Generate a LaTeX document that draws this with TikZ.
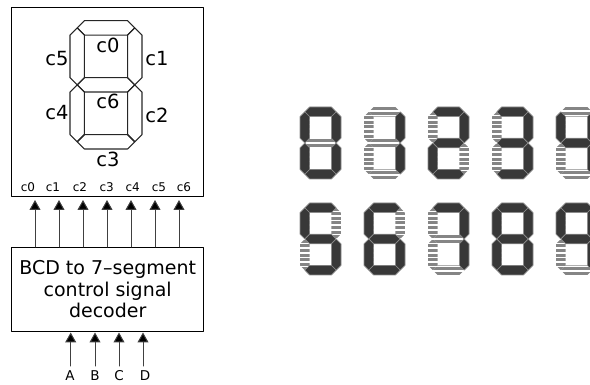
\documentclass[tikz,border=0pt]{standalone}
\usepackage{fontspec}
\setmainfont{DejaVu Sans}
\usetikzlibrary{arrows.meta}
\newcommand{\segTop}{(\segc,\segc) -- (\segt,0) -- (\segw-\segt,0) -- (\segw-\segc,\segc) -- (\segw-\segt,\segt) -- (\segt,\segt) -- cycle}
\newcommand{\segUR}{(\segw,\segt) -- (\segw-\segc,\segc) -- (\segw-\segt,\segt) -- (\segw-\segt,\segm-\segc) -- (\segw-\segc,\segm) -- (\segw,\segm-\segc) -- cycle}
\newcommand{\segLR}{(\segw,\segm+\segc) -- (\segw-\segc,\segm) -- (\segw-\segt,\segm+\segc) -- (\segw-\segt,\segh-\segt) -- (\segw-\segc,\segh-\segc) -- (\segw,\segh-\segt) -- cycle}
\newcommand{\segBot}{(\segc,\segh-\segc) -- (\segt,\segh-\segt) -- (\segw-\segt,\segh-\segt) -- (\segw-\segc,\segh-\segc) -- (\segw-\segt,\segh) -- (\segt,\segh) -- cycle}
\newcommand{\segLL}{(0,\segm+\segc) -- (\segc,\segm) -- (\segt,\segm+\segc) -- (\segt,\segh-\segt) -- (\segc,\segh-\segc) -- (0,\segh-\segt) -- cycle}
\newcommand{\segUL}{(0,\segt) -- (\segc,\segc) -- (\segt,\segt) -- (\segt,\segm-\segc) -- (\segc,\segm) -- (0,\segm-\segc) -- cycle}
\newcommand{\segMid}{(\segc,\segm) -- (\segt,\segm-\segc) -- (\segw-\segt,\segm-\segc) -- (\segw-\segc,\segm) -- (\segw-\segt,\segm+\segc) -- (\segt,\segm+\segc) -- cycle}
\tikzset{
	box/.style={draw=black, line width=0.9pt, minimum width=192pt, inner sep=0pt},
	sig/.style={-{Triangle[width=11pt,length=10pt,fill=black]}, line width=1pt, black!75},
	seglabel/.style={font=\fontsize{19.5}{22}\selectfont, inner sep=0pt},
	pinlabel/.style={font=\fontsize{12}{14}\selectfont, inner sep=0pt},
	inlabel/.style={font=\fontsize{13.5}{15}\selectfont, inner sep=0pt},
	segoutline/.style={draw=black!85, line width=1.1pt, line join=round},
	segon/.style={fill=black!78, draw=black!45, line width=0.7pt, line join=round},
	stripe/.style={draw=black!48, line width=3.1pt, line cap=butt},
}
\begin{document}
\begin{tikzpicture}[x=1pt, y=-1pt, line cap=round, line join=round]
	\clip (0,0) rectangle (590,385);
	\node[box, minimum height=188.5pt] (display) at (107.7,102) {};
	\node[box, minimum height=84.5pt, align=center, font=\fontsize{19}{21.5}\selectfont] (decoder) at (107.7,289.5) {BCD to 7--segment\\control signal\\decoder};
	\begin{scope}[shift={(70,20.7)}]
		\pgfmathsetmacro{\segw}{72}
		\pgfmathsetmacro{\segh}{128.3}
		\pgfmathsetmacro{\segt}{14.4}
		\pgfmathsetmacro{\segc}{\segt/2}
		\pgfmathsetmacro{\segm}{\segh/2}
		\foreach \s in {\segTop,\segUR,\segLR,\segBot,\segLL,\segUL,\segMid} {
			\draw[segoutline] \s;
		}
	\end{scope}
	\node[seglabel] (lblc0) at (108,45) {c0};
	\node[seglabel] (lblc1) at (157,59) {c1};
	\node[seglabel] (lblc2) at (157,115) {c2};
	\node[seglabel] (lblc3) at (108,159) {c3};
	\node[seglabel] (lblc4) at (57,113) {c4};
	\node[seglabel] (lblc5) at (57,59) {c5};
	\node[seglabel] (lblc6) at (108,101) {c6};
	\foreach \i/\xl/\x in {0/28/35,1/53/59,2/80/83,3/106.7/107,4/132.7/131,5/159/155,6/184/179} {
		\node[pinlabel] (pinc\i) at (\xl,187) {c\i};
		\coordinate (tipc\i) at (\x,200);
		\coordinate (tailc\i) at (\x,247);
		\draw[sig] (tailc\i) -- (tipc\i);
	}
	\foreach \p/\xl/\x in {A/70/70.7,B/95/95,C/119/119,D/145/143} {
		\node[inlabel] (pin\p) at (\xl,376) {\p};
		\coordinate (tip\p) at (\x,332.5);
		\coordinate (tail\p) at (\x,366);
		\draw[sig] (tail\p) -- (tip\p);
	}
	\pgfmathsetmacro{\segw}{41}
	\pgfmathsetmacro{\segh}{72}
	\pgfmathsetmacro{\segt}{9.6}
	\pgfmathsetmacro{\segc}{\segt/2}
	\pgfmathsetmacro{\segm}{\segh/2}
	\foreach \dx/\dy/\lit in {
		300/107/{\segTop,\segUR,\segLR,\segBot,\segLL,\segUL},
		364/107/{\segUR,\segLR},
		428/107/{\segTop,\segUR,\segMid,\segLL,\segBot},
		492/107/{\segTop,\segUR,\segMid,\segLR,\segBot},
		556/107/{\segUL,\segMid,\segUR,\segLR},
		300/203/{\segTop,\segUL,\segMid,\segLR,\segBot},
		364/203/{\segTop,\segUL,\segMid,\segLL,\segLR,\segBot},
		428/203/{\segTop,\segUR,\segLR},
		492/203/{\segTop,\segUR,\segLR,\segBot,\segLL,\segUL,\segMid},
		556/203/{\segTop,\segUR,\segLR,\segUL,\segMid}} {
		\begin{scope}[shift={(\dx,\dy)}]
			\foreach \s in {\segTop,\segUR,\segLR,\segBot,\segLL,\segUL,\segMid} {
				\begin{scope}
					\clip \s;
					\foreach \yy in {1.5,6.1,...,72} {
						\draw[stripe] (0,\yy) -- (\segw,\yy);
					}
				\end{scope}
			}
			\foreach \s in \lit {
				\draw[segon] \s;
			}
		\end{scope}
	}
\end{tikzpicture}
\end{document}
